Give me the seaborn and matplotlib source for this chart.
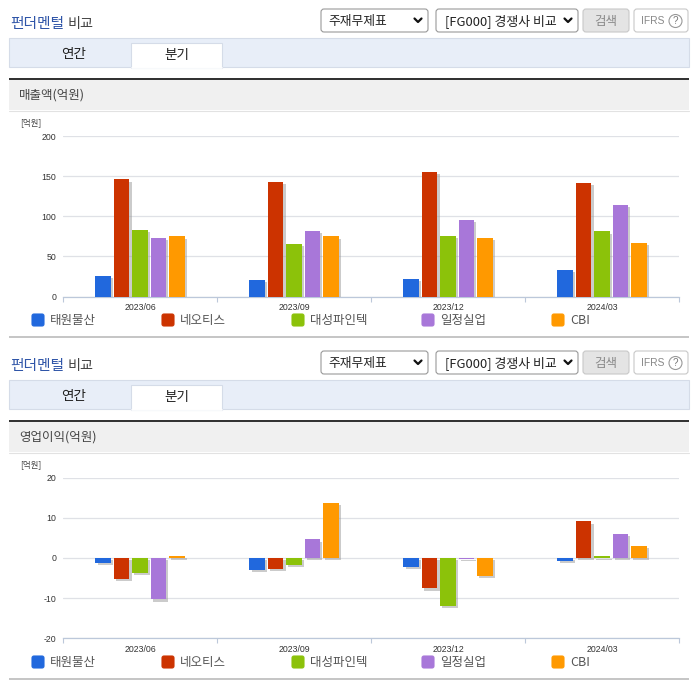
import matplotlib
matplotlib.use("Agg")
import matplotlib.pyplot as plt
import matplotlib.patheffects as pe
from matplotlib.patches import FancyBboxPatch, Rectangle, Circle
import pandas as pd
import seaborn as sns

W, H = 696, 684
KR = ["Noto Sans CJK KR", "DejaVu Sans"]

quarters = ["2023/06", "2023/09", "2023/12", "2024/03"]
companies = ["태원물산", "네오티스", "대성파인텍", "일정실업", "CBI"]
colors = ["#2168dd", "#cc3300", "#8cc20a", "#a877d9", "#ff9900"]

sales_taewon = [26, 21, 22, 33]
sales_neo = [146, 143, 155, 142]
sales_daesung = [83, 66, 76, 81]
sales_iljung = [73, 82, 95, 114]
sales_cbi = [75, 75, 73, 67]

op_taewon = [-1.2, -3.0, -2.3, -0.8]
op_neo = [-5.2, -2.8, -7.6, 9.1]
op_daesung = [-3.8, -1.8, -12.0, 0.4]
op_iljung = [-10.3, 4.6, -0.2, 5.9]
op_cbi = [0.5, 13.6, -4.5, 3.0]

sales_ticks = [0, 50, 100, 150, 200]
op_ticks = [-20, -10, 0, 10, 20]


def make_df(*series):
    rows = []
    for name, vals in zip(companies, series):
        for q, v in zip(quarters, vals):
            rows.append({"quarter": q, "company": name, "value": v})
    return pd.DataFrame(rows)


def box(bg, x0, y0, x1, y1, fc, ec, rad=3):
    bg.add_patch(FancyBboxPatch((x0 + rad, y0 + rad), x1 - x0 - 2 * rad, y1 - y0 - 2 * rad,
                                boxstyle=f"round,pad={rad},rounding_size={rad}", fc=fc, ec=ec, lw=0.8))


def chevron(bg, x, y):
    bg.plot([x - 3.5, x, x + 3.5], [y - 2, y + 1.5, y - 2], color="#111111", lw=1.6)


def kr_text(bg, x, y, s, size, color, **kw):
    # Noto CJK 는 va=center 가 살짝 위로 뜸
    return bg.text(x, y + 1, s, color=color, fontsize=size, family=KR, va="center", **kw)


def panel(bg, dy, subtitle):
    # 제목 + 상단 컨트롤
    kr_text(bg, 10, 23 + dy, "펀더멘털", 10.6, "#2f55a8", weight="medium")
    kr_text(bg, 68, 23 + dy, "비교", 10.2, "#444444", weight="medium")
    box(bg, 321, 9 + dy, 428, 32 + dy, "white", "#999999")
    kr_text(bg, 328, 20 + dy, "주재무제표", 9.2, "#222222")
    chevron(bg, 418, 20.5 + dy)
    box(bg, 436, 9 + dy, 578, 32 + dy, "white", "#999999")
    kr_text(bg, 445, 20 + dy, "[FG000] 경쟁사 비교", 9.3, "#222222")
    chevron(bg, 568, 20.5 + dy)
    box(bg, 583, 9 + dy, 629, 32 + dy, "#e4e4e4", "#c8c8c8")
    kr_text(bg, 606, 20 + dy, "검색", 9, "#888888", ha="center")
    box(bg, 634, 9 + dy, 688, 32 + dy, "white", "#c8c8c8")
    bg.text(641, 20.5 + dy, "IFRS", color="#888888", fontsize=7.4, family="Liberation Sans", va="center")
    bg.add_patch(Circle((675.5, 21 + dy), 6.5, fc="white", ec="#999999", lw=0.8))
    bg.text(675.5, 21 + dy, "?", color="#777777", fontsize=7, family="Liberation Sans", va="center", ha="center")

    # 탭
    bg.add_patch(Rectangle((9, 38 + dy), 680, 29, fc="#e8eef8", ec="#d5dce8", lw=0.8))
    bg.add_patch(Rectangle((131, 43 + dy), 91, 25, fc="white", ec="#d5dce8", lw=0.8))
    bg.plot([131.5, 221.5], [67.5 + dy, 67.5 + dy], color="white", lw=1.2)
    kr_text(bg, 74, 53 + dy, "연간", 9.8, "#222222", ha="center")
    kr_text(bg, 177, 54 + dy, "분기", 9.8, "#222222", ha="center")

    # 소제목 띠
    bg.add_patch(Rectangle((9, 80 + dy), 680, 30, fc="#f0f0f0", ec="none"))
    bg.add_patch(Rectangle((9, 78 + dy), 680, 2, fc="#333333", ec="none"))
    bg.plot([9, 689], [110.5 + dy, 110.5 + dy], color="#e2e2e2", lw=0.8)
    kr_text(bg, 19, 94.5 + dy, subtitle, 9, "#444444")
    kr_text(bg, 20, 122 + dy, "[억원]", 6.1, "#444444")

    # 범례
    for i, (name, c) in enumerate(zip(companies, colors)):
        x = 32 + 130 * i
        box(bg, x, 314 + dy, x + 12, 326 + dy, c, c, rad=2)
        kr_text(bg, x + 18, 319.5 + dy, name, 9, "#555555")

    bg.add_patch(Rectangle((9, 336 + dy), 680, 2, fc="#c6c6c6", ec="none"))


def bar_chart(fig, top, bottom, df, ticks):
    ax = fig.add_axes([63 / W, 1 - bottom / H, 616 / W, (bottom - top) / H])
    ax.patch.set_alpha(0)
    sns.barplot(data=df, x="quarter", y="value", hue="company", hue_order=companies, order=quarters,
                palette=colors, saturation=1, width=0.6, gap=0.16, legend=False, ax=ax, zorder=3)
    for b in ax.patches:
        b.set_edgecolor("none")
        b.set_linewidth(0)
        b.set_path_effects([pe.SimplePatchShadow(offset=(1.6, -1.6), shadow_rgbFace="#999999", alpha=0.5),
                            pe.Normal()])
    ax.set_xlim(-0.5, 3.5)
    ax.set_ylim(ticks[0], ticks[-1])
    ax.set_yticks(ticks)
    ax.set_xticks([i - 0.5 for i in range(5)], minor=True)
    ax.set_xlabel("")
    ax.set_ylabel("")
    ax.grid(axis="y", color="#dfe1e6", lw=0.9, zorder=0)
    ax.grid(axis="x", visible=False)
    ax.set_axisbelow(True)
    for s in ["top", "left", "right"]:
        ax.spines[s].set_visible(False)
    ax.spines["bottom"].set_color("#bcc8da")
    ax.spines["bottom"].set_linewidth(0.9)
    ax.tick_params(axis="x", which="major", bottom=False, length=0, pad=4.6, labelsize=6.3, labelcolor="#333333")
    ax.tick_params(axis="x", which="minor", bottom=True, length=3.6, color="#bcc8da", width=0.8)
    ax.tick_params(axis="y", left=False, length=0, pad=5, labelsize=6.3, labelcolor="#333333")
    for lab in ax.get_xticklabels() + ax.get_yticklabels():
        lab.set_family("Liberation Sans")
    return ax


sns.set_theme(style="white")
plt.rcParams["axes.unicode_minus"] = False
fig = plt.figure(figsize=(W / 100, H / 100), dpi=100, facecolor="white")
bg = fig.add_axes([0, 0, 1, 1])
bg.set_xlim(0, W)
bg.set_ylim(H, 0)
bg.axis("off")

panel(bg, 0, "매출액(억원)")
panel(bg, 342, "영업이익(억원)")

bar_chart(fig, 136, 296.5, make_df(sales_taewon, sales_neo, sales_daesung, sales_iljung, sales_cbi), sales_ticks)
bar_chart(fig, 477.5, 638.3, make_df(op_taewon, op_neo, op_daesung, op_iljung, op_cbi), op_ticks)

fig.savefig("out.png", dpi=100)
